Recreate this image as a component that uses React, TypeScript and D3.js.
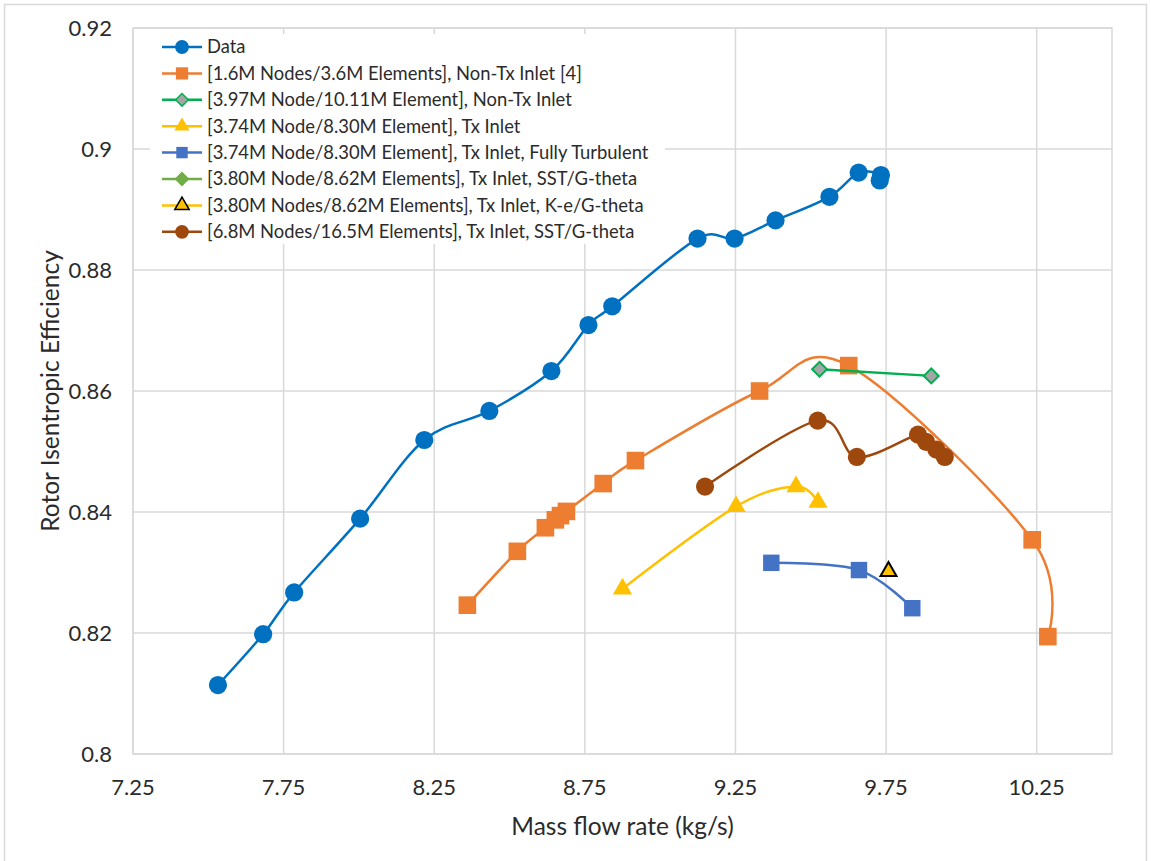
import { useRef, useEffect } from 'react';
import * as d3 from 'd3';

// axis ticks
const xTickValues = [7.25, 7.75, 8.25, 8.75, 9.25, 9.75, 10.25];
const xTickLabels = ['7.25', '7.75', '8.25', '8.75', '9.25', '9.75', '10.25'];
const yTickValues = [0.8, 0.82, 0.84, 0.86, 0.88, 0.9, 0.92];
const yTickLabels = ['0.8', '0.82', '0.84', '0.86', '0.88', '0.9', '0.92'];

// series values [mass flow, efficiency]
const measuredData = [
  [7.532, 0.8114], [7.682, 0.8198], [7.785, 0.8267], [8.004, 0.8389],
  [8.217, 0.8519], [8.433, 0.8567], [8.639, 0.8633], [8.762, 0.8709],
  [8.841, 0.874], [9.124, 0.8852], [9.247, 0.8852], [9.383, 0.8882],
  [9.562, 0.8921], [9.659, 0.8961], [9.733, 0.8957], [9.729, 0.8948],
];
const coarseNonTx = [
  [8.36, 0.8246], [8.526, 0.8335], [8.619, 0.8374], [8.652, 0.8387],
  [8.669, 0.8394], [8.689, 0.8401], [8.811, 0.8447], [8.918, 0.8485],
  [9.33, 0.86], [9.626, 0.8642], [10.235, 0.8354], [10.287, 0.8194],
];
const fineNonTx = [[9.529, 0.8636], [9.9, 0.8625]];
const txInlet = [[8.875, 0.8273], [9.252, 0.8409], [9.451, 0.8442], [9.524, 0.8416]];
const txFullyTurbulent = [[9.369, 0.8316], [9.66, 0.8304], [9.837, 0.8241]];
const txSstGtheta = [];
const txKeGtheta = [[9.758, 0.8302]];
const fineTxSstGtheta = [
  [9.149, 0.8442], [9.523, 0.8551], [9.653, 0.8491], [9.856, 0.8528],
  [9.883, 0.8516], [9.917, 0.8503], [9.945, 0.8491],
];

const seriesNames = [
  'Data',
  '[1.6M Nodes/3.6M Elements], Non-Tx Inlet [4]',
  '[3.97M Node/10.11M Element], Non-Tx Inlet',
  '[3.74M Node/8.30M Element], Tx Inlet',
  '[3.74M Node/8.30M Element], Tx Inlet, Fully Turbulent',
  '[3.80M Node/8.62M Elements], Tx Inlet, SST/G-theta',
  '[3.80M Nodes/8.62M Elements], Tx Inlet, K-e/G-theta',
  '[6.8M Nodes/16.5M Elements], Tx Inlet, SST/G-theta',
];

const series = [
  { name: seriesNames[0], points: measuredData, line: '#0070c0', fill: '#0070c0', edge: 'none', shape: 'circle', size: 260, legendSize: 150 },
  { name: seriesNames[1], points: coarseNonTx, line: '#ed7d31', fill: '#ed7d31', edge: 'none', shape: 'square', size: 310, legendSize: 150 },
  { name: seriesNames[2], points: fineNonTx, line: '#00b050', fill: '#a5a5a5', edge: '#00b050', shape: 'diamond', size: 110, legendSize: 80 },
  { name: seriesNames[3], points: txInlet, line: '#ffc000', fill: '#ffc000', edge: 'none', shape: 'triangle', size: 160, legendSize: 100 },
  { name: seriesNames[4], points: txFullyTurbulent, line: '#4472c4', fill: '#4472c4', edge: 'none', shape: 'square', size: 270, legendSize: 130 },
  { name: seriesNames[5], points: txSstGtheta, line: '#70ad47', fill: '#70ad47', edge: 'none', shape: 'diamond', size: 110, legendSize: 110 },
  { name: seriesNames[6], points: txKeGtheta, line: '#ffc000', fill: '#ffc000', edge: '#000000', shape: 'triangle', size: 110, legendSize: 90 },
  { name: seriesNames[7], points: fineTxSstGtheta, line: '#9e480e', fill: '#9e480e', edge: 'none', shape: 'circle', size: 260, legendSize: 150 },
];

const symbolTypes = {
  circle: d3.symbolCircle,
  square: d3.symbolSquare,
  diamond: d3.symbolSquare, // rotated 45deg below
  triangle: d3.symbolTriangle,
};

const WIDTH = 1151;
const HEIGHT = 861;
const FONT = 'Lato, "Open Sans", sans-serif';

export default function App() {
  const svgRef = useRef(null);

  useEffect(() => {
    if (!svgRef.current) return;
    const svg = d3.select(svgRef.current);
    svg.selectAll('*').remove();

    const plot = { left: 133, right: 1112, top: 28, bottom: 754 };

    const x = d3.scaleLinear().domain([7.25, 10.5]).range([plot.left, plot.right]);
    const y = d3.scaleLinear().domain([0.8, 0.92]).range([plot.bottom, plot.top]);

    // chart border
    svg.append('rect')
      .attr('x', 4.5).attr('y', 4.5)
      .attr('width', WIDTH - 9).attr('height', HEIGHT)
      .attr('fill', '#fff')
      .attr('stroke', '#d9d9d9')
      .attr('stroke-width', 1.5);

    // gridlines
    svg.append('g')
      .selectAll('line')
      .data(yTickValues)
      .join('line')
      .attr('x1', plot.left).attr('x2', plot.right)
      .attr('y1', d => y(d)).attr('y2', d => y(d))
      .attr('stroke', '#d9d9d9')
      .attr('stroke-width', 1.5);

    svg.append('g')
      .selectAll('line')
      .data(xTickValues)
      .join('line')
      .attr('x1', d => x(d)).attr('x2', d => x(d))
      .attr('y1', plot.top).attr('y2', plot.bottom)
      .attr('stroke', '#d9d9d9')
      .attr('stroke-width', 1.5);

    svg.append('rect')
      .attr('x', plot.left).attr('y', plot.top)
      .attr('width', plot.right - plot.left).attr('height', plot.bottom - plot.top)
      .attr('fill', 'none')
      .attr('stroke', '#d9d9d9')
      .attr('stroke-width', 1.5);

    // tick labels
    svg.append('g')
      .selectAll('text')
      .data(yTickValues)
      .join('text')
      .attr('x', plot.left - 21)
      .attr('y', d => y(d))
      .attr('dy', '0.35em')
      .attr('text-anchor', 'end')
      .attr('font-family', FONT)
      .attr('font-size', 22)
      .attr('fill', '#2b2b2b')
      .text((d, i) => yTickLabels[i]);

    svg.append('g')
      .selectAll('text')
      .data(xTickValues)
      .join('text')
      .attr('x', d => x(d))
      .attr('y', plot.bottom + 33)
      .attr('dy', '0.35em')
      .attr('text-anchor', 'middle')
      .attr('font-family', FONT)
      .attr('font-size', 22)
      .attr('fill', '#2b2b2b')
      .text((d, i) => xTickLabels[i]);

    // axis titles
    svg.append('text')
      .attr('x', (plot.left + plot.right) / 2)
      .attr('y', 826)
      .attr('dy', '0.35em')
      .attr('text-anchor', 'middle')
      .attr('font-family', FONT)
      .attr('font-size', 24.5)
      .attr('fill', '#2b2b2b')
      .text('Mass flow rate (kg/s)');

    svg.append('text')
      .attr('transform', `translate(50,${(plot.top + plot.bottom) / 2}) rotate(-90)`)
      .attr('dy', '0.35em')
      .attr('text-anchor', 'middle')
      .attr('font-family', FONT)
      .attr('font-size', 24.5)
      .attr('fill', '#2b2b2b')
      .text('Rotor Isentropic Efficiency');

    const line = d3.line()
      .x(d => x(d[0]))
      .y(d => y(d[1]))
      .curve(d3.curveCardinal.tension(0));

    const marker = (shape, size) => d3.symbol().type(symbolTypes[shape]).size(size)();

    // series lines + markers
    series.forEach(s => {
      if (s.points.length > 1) {
        svg.append('path')
          .datum(s.points)
          .attr('d', line)
          .attr('fill', 'none')
          .attr('stroke', s.line)
          .attr('stroke-width', 2.5);
      }
      svg.append('g')
        .selectAll('path')
        .data(s.points)
        .join('path')
        .attr('d', marker(s.shape, s.size))
        .attr('transform', d => `translate(${x(d[0])},${y(d[1])})${s.shape === 'diamond' ? ' rotate(45)' : ''}`)
        .attr('fill', s.fill)
        .attr('stroke', s.edge)
        .attr('stroke-width', 2);
    });

    // legend
    const legend = svg.append('g');
    legend.append('rect')
      .attr('x', 150).attr('y', 34)
      .attr('width', 515).attr('height', 210)
      .attr('fill', '#fff');

    const rows = legend.selectAll('g')
      .data(series)
      .join('g')
      .attr('transform', (d, i) => `translate(0,${47 + i * 26.4})`);

    rows.append('line')
      .attr('x1', 162).attr('x2', 202)
      .attr('stroke', d => d.line)
      .attr('stroke-width', 2.5);

    rows.append('path')
      .attr('d', d => marker(d.shape, d.legendSize))
      .attr('transform', d => `translate(182,0)${d.shape === 'diamond' ? ' rotate(45)' : ''}`)
      .attr('fill', d => d.fill)
      .attr('stroke', d => d.edge)
      .attr('stroke-width', 1.5);

    rows.append('text')
      .attr('x', 207)
      .attr('dy', '0.35em')
      .attr('font-family', FONT)
      .attr('font-size', 18.4)
      .attr('fill', '#2b2b2b')
      .text(d => d.name);
  }, []);

  return (
    <div>
      <style>{'body { margin: 0; }'}</style>
      <svg ref={svgRef} width={WIDTH} height={HEIGHT} style={{ display: 'block' }} />
    </div>
  );
}
